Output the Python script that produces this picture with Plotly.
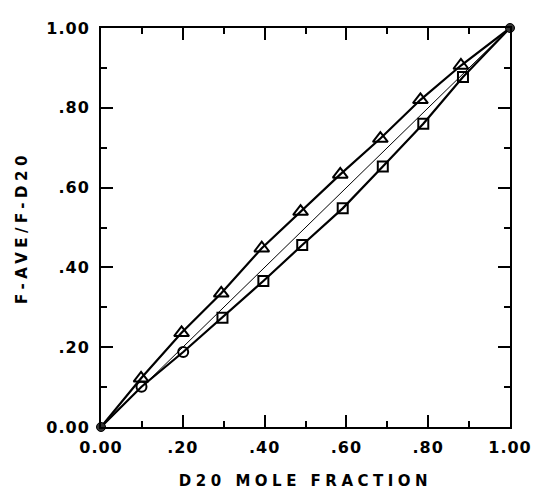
import plotly.graph_objects as go

# Data
x_upper = [0.0, 0.098, 0.197, 0.294, 0.393, 0.488, 0.585, 0.683, 0.781, 0.880, 1.0]
y_upper = [0.0, 0.122, 0.236, 0.335, 0.448, 0.540, 0.633, 0.723, 0.820, 0.906, 1.0]

x_lower = [0.0, 0.099, 0.201, 0.297, 0.397, 0.492, 0.591, 0.689, 0.788, 0.885, 1.0]
y_lower = [0.0, 0.101, 0.188, 0.274, 0.366, 0.456, 0.548, 0.653, 0.760, 0.877, 1.0]
lower_symbols = ["circle", "circle-open", "circle-open", "square-open", "square-open",
                 "square-open", "square-open", "square-open", "square-open", "square-open", "circle"]

x_diag = [0.0, 1.0]
y_diag = [0.0, 1.0]

x_end = [0.0, 1.0]
y_end = [0.0, 1.0]

tick_vals = [0.0, 0.2, 0.4, 0.6, 0.8, 1.0]
tick_text = ["0.00", ".20", ".40", ".60", ".80", "1.00"]

fig = go.Figure()

fig.add_trace(go.Scatter(x=x_diag, y=y_diag, mode="lines",
                         line=dict(color="black", width=1), cliponaxis=False, showlegend=False))
fig.add_trace(go.Scatter(x=x_upper, y=y_upper, mode="lines",
                         line=dict(color="black", width=2.2), cliponaxis=False, showlegend=False))
fig.add_trace(go.Scatter(x=x_lower, y=y_lower, mode="lines",
                         line=dict(color="black", width=2.2), cliponaxis=False, showlegend=False))
fig.add_trace(go.Scatter(x=x_upper[1:-1], y=y_upper[1:-1], mode="markers",
                         marker=dict(symbol="triangle-up-open", size=13, color="black",
                                     line=dict(width=2, color="black")),
                         cliponaxis=False, showlegend=False))
fig.add_trace(go.Scatter(x=x_lower[1:-1], y=y_lower[1:-1], mode="markers",
                         marker=dict(symbol=lower_symbols[1:-1], size=10, color="black",
                                     line=dict(width=2, color="black")),
                         cliponaxis=False, showlegend=False))
fig.add_trace(go.Scatter(x=x_end, y=y_end, mode="markers",
                         marker=dict(symbol="circle", size=9, color="#333",
                                     line=dict(width=1, color="black")),
                         cliponaxis=False, showlegend=False))

axis_common = dict(
    range=[0, 1], showgrid=False, zeroline=False,
    showline=True, linecolor="black", linewidth=2, mirror="allticks",
    ticks="inside", ticklen=12, tickwidth=2, tickcolor="black",
    tickvals=tick_vals, ticktext=tick_text,
    tickfont=dict(family="DejaVu Sans", size=16, color="black", weight="bold"),
    minor=dict(ticks="inside", ticklen=6, tickwidth=2, tickcolor="black", dtick=0.1, showgrid=False),
)

fig.update_layout(
    width=542, height=499,
    margin=dict(l=101, r=25, t=28, b=57),
    paper_bgcolor="white", plot_bgcolor="white",
    xaxis=dict(**axis_common, ticklabelstandoff=5,
               title=dict(text="D20 MOLE FRACTION", standoff=19,
                          font=dict(family="DejaVu Sans", size=15, color="black", weight="bold"))),
    yaxis=dict(**axis_common, ticklabelstandoff=6,
               title=dict(text="F-AVE/F-D20", standoff=19,
                          font=dict(family="DejaVu Sans", size=15, color="black", weight="bold"))),
)

post = """
document.body.style.margin = '0';
document.body.style.padding = '0';
var st = document.createElement('style');
st.innerHTML = '.xtitle, .ytitle {letter-spacing: 4.5px;} .xtick text, .ytick text {letter-spacing: 1px;}';
document.head.appendChild(st);
"""
fig.write_html("out.html", post_script=post, config={"displayModeBar": False})
